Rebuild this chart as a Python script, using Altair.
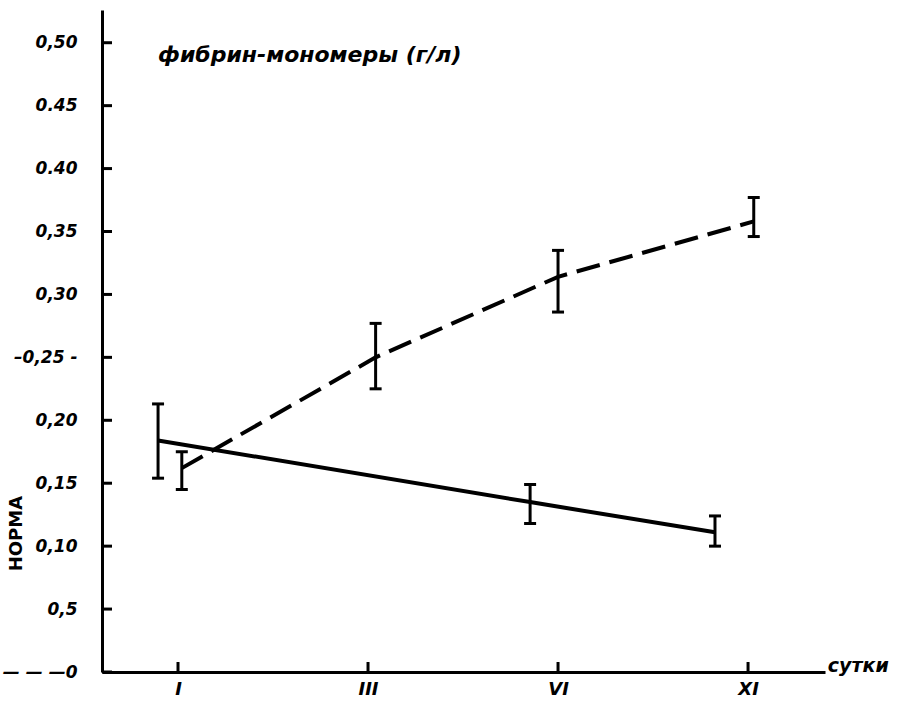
import altair as alt
import pandas as pd

# ---- data ----
day_labels = ["I", "III", "VI", "XI"]
day_pos = [1, 2, 3, 4]

# solid line (норма / group 1)
solid_x = [0.895, 2.853, 3.826]
solid_y = [0.184, 0.135, 0.111]
solid_lo = [0.154, 0.118, 0.100]
solid_hi = [0.213, 0.149, 0.124]

# dashed line
dash_x = [1.02, 2.04, 3.0, 4.03]
dash_y = [0.162, 0.250, 0.314, 0.358]
dash_lo = [0.145, 0.225, 0.286, 0.346]
dash_hi = [0.175, 0.277, 0.335, 0.377]

y_ticks = [0.0, 0.05, 0.10, 0.15, 0.20, 0.25, 0.30, 0.35, 0.40, 0.45, 0.50]
y_tick_labels = ["— — —0", "0,5", "0,10", "0,15", "0,20", "–0,25 -",
                 "0,30", "0,35", "0.40", "0.45", "0,50"]

title_text = "фибрин-мономеры (г/л)"
x_title = "сутки"
y_title = "НОРМА"

# ---- tables ----
solid = pd.DataFrame({"x": solid_x, "y": solid_y, "lo": solid_lo, "hi": solid_hi})
dashed = pd.DataFrame({"x": dash_x, "y": dash_y, "lo": dash_lo, "hi": dash_hi})
yt = pd.DataFrame({"v": y_ticks})
xt = pd.DataFrame({"d": day_pos})

FONT = "DejaVu Sans"

X0, X1 = 0.6, 4.405
Y0, Y1 = 0.0, 0.526
xs = alt.Scale(domain=[X0, X1], nice=False, zero=False)
ys = alt.Scale(domain=[Y0, Y1], nice=False, zero=False)

ylab_expr = "[" + ",".join("'" + s + "'" for s in y_tick_labels) + "][round(datum.value*20)]"
xlab_expr = "[" + ",".join("'" + s + "'" for s in day_labels) + "][round(datum.value)-1]"

x_axis = alt.Axis(values=day_pos, labelExpr=xlab_expr, title=None, grid=False,
                  ticks=False, domainColor="black", domainWidth=3,
                  labelFont=FONT, labelFontSize=18, labelFontWeight="bold",
                  labelFontStyle="italic", labelColor="black", labelPadding=8)
y_axis = alt.Axis(values=y_ticks, labelExpr=ylab_expr, title=None, grid=False,
                  ticks=False, domainColor="black", domainWidth=3,
                  labelFont=FONT, labelFontSize=17, labelFontWeight="bold",
                  labelFontStyle="italic", labelColor="black", labelPadding=25)

# inward tick stubs (about 10 px long)
y_stubs = alt.Chart(yt).mark_rule(color="black", strokeWidth=3).encode(
    y=alt.Y("v:Q", scale=ys, axis=y_axis),
    x=alt.value(0), x2=alt.value(10),
)
x_stubs = alt.Chart(xt).mark_rule(color="black", strokeWidth=3).encode(
    x=alt.X("d:Q", scale=xs, axis=x_axis),
    y=alt.value(662), y2=alt.value(652),
)

def series(df, dash):
    kw = {"strokeDash": [24, 10]} if dash else {}
    line = alt.Chart(df).mark_line(color="black", strokeWidth=4, **kw).encode(
        x=alt.X("x:Q", scale=xs), y=alt.Y("y:Q", scale=ys))
    bar = alt.Chart(df).mark_rule(color="black", strokeWidth=3).encode(
        x=alt.X("x:Q", scale=xs), y=alt.Y("lo:Q", scale=ys), y2="hi:Q")
    cap_lo = alt.Chart(df).mark_tick(color="black", orient="horizontal", size=12,
                                     thickness=3, opacity=1).encode(
        x=alt.X("x:Q", scale=xs), y=alt.Y("lo:Q", scale=ys))
    cap_hi = alt.Chart(df).mark_tick(color="black", orient="horizontal", size=12,
                                     thickness=3, opacity=1).encode(
        x=alt.X("x:Q", scale=xs), y=alt.Y("hi:Q", scale=ys))
    return line + bar + cap_lo + cap_hi

ann = pd.DataFrame({
    "x": [0.895, 4.42, 0.153],
    "y": [0.4905, 0.0, 0.11],
    "t": [title_text, x_title, y_title],
})
title_mark = alt.Chart(ann.iloc[[0]]).mark_text(
    align="left", baseline="middle", font=FONT, fontSize=22, fontWeight="bold",
    fontStyle="italic", color="black").encode(
    x=alt.X("x:Q", scale=xs), y=alt.Y("y:Q", scale=ys), text="t:N")
xt_mark = alt.Chart(ann.iloc[[1]]).mark_text(
    align="left", baseline="middle", font=FONT, fontSize=19, fontWeight="bold",
    fontStyle="italic", color="black", dy=-6).encode(
    x=alt.X("x:Q", scale=xs), y=alt.Y("y:Q", scale=ys), text="t:N")
yt_mark = alt.Chart(ann.iloc[[2]]).mark_text(
    align="center", baseline="middle", font=FONT, fontSize=18, fontWeight="bold",
    color="black", angle=270).encode(
    x=alt.X("x:Q", scale=xs), y=alt.Y("y:Q", scale=ys), text="t:N")

chart = alt.layer(
    series(solid, False), series(dashed, True),
    title_mark, xt_mark, yt_mark,
    y_stubs, x_stubs,
).properties(
    width=723, height=662,
    autosize=alt.AutoSizeParams(type="none"),
    padding={"left": 102, "top": 10, "right": 93, "bottom": 41},
    background="white",
).configure_view(stroke=None)

chart.save("out.html", embed_options={"renderer": "svg", "actions": False})
